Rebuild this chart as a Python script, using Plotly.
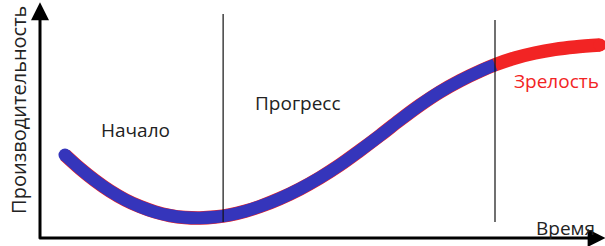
import plotly.graph_objects as go

# Data (time in arbitrary units 0..100, performance 0..100)
time = [4.46, 7.14, 9.82, 12.5, 15.18, 17.86, 20.54, 23.21, 25.89, 28.57, 31.25, 33.93, 36.61,
        39.29, 42.86, 46.43, 50.0, 53.57, 57.14, 60.71, 64.29, 67.86, 71.43, 75.0, 78.57,
        81.25, 84.82, 88.39, 91.96, 95.54, 100.0]
performance = [36.09, 30.22, 25.0, 20.43, 16.65, 13.65, 11.35, 9.78, 8.91, 8.70, 9.09, 10.04, 11.61,
               13.70, 17.17, 21.35, 26.22, 31.78, 38.04, 44.57, 51.35, 57.78, 63.52, 68.39, 72.57,
               75.30, 78.26, 80.43, 82.0, 83.04, 83.91]
phase_boundaries = [32.7, 81.25]
phase_labels = ["Начало", "Прогресс", "Зрелость"]
x_label = "Время"
y_label = "Производительность"

blue = "#3535BB"
red = "#F22424"
font = "Open Sans"

n_blue = time.index(phase_boundaries[1]) + 1

fig = go.Figure()
fig.add_trace(go.Scatter(x=time, y=performance, mode="lines",
                         line=dict(color=red, width=13.5, shape="spline", smoothing=1.0),
                         hoverinfo="skip", showlegend=False))
fig.add_trace(go.Scatter(x=time[:n_blue], y=performance[:n_blue], mode="lines",
                         line=dict(color=blue, width=12.5, shape="spline", smoothing=1.0),
                         hoverinfo="skip", showlegend=False))
fig.add_trace(go.Scatter(x=time[:1], y=performance[:1], mode="markers",
                         marker=dict(color=blue, size=13),
                         hoverinfo="skip", showlegend=False))
fig.add_trace(go.Scatter(x=time[-1:], y=performance[-1:], mode="markers",
                         marker=dict(color=red, size=13),
                         hoverinfo="skip", showlegend=False))

# phase boundaries
fig.add_shape(type="line", x0=phase_boundaries[0], x1=phase_boundaries[0], y0=7, y1=97.4,
              line=dict(color="#111", width=1.2))
fig.add_shape(type="line", x0=phase_boundaries[1], x1=phase_boundaries[1], y0=7, y1=94.8,
              line=dict(color="#111", width=1.2))

# axes with arrows
fig.add_annotation(x=101, y=0, ax=-0.4, ay=0, xref="x", yref="y", axref="x", ayref="y",
                   showarrow=True, arrowhead=2, arrowsize=1.2, arrowwidth=3, arrowcolor="#000", text="")
fig.add_annotation(x=0, y=102.5, ax=0, ay=-1, xref="x", yref="y", axref="x", ayref="y",
                   showarrow=True, arrowhead=2, arrowsize=1.2, arrowwidth=3, arrowcolor="#000", text="")

tf = dict(family=font, size=19, color="#222")
fig.add_annotation(x=17.0, y=47.0, text=phase_labels[0], showarrow=False, font=tf)
fig.add_annotation(x=46.1, y=58.7, text=phase_labels[1], showarrow=False, font=tf)
fig.add_annotation(x=92.3, y=68.3, text=phase_labels[2], showarrow=False,
                   font=dict(family=font, size=19, color=red))
fig.add_annotation(x=93.75, y=4.3, text=x_label, showarrow=False, font=tf)
fig.add_annotation(x=-3.75, y=55.7, text=y_label, showarrow=False, textangle=-90,
                   font=dict(family=font, size=20, color="#222"))

fig.update_xaxes(range=[(0 - 40) / 5.6, (605 - 40) / 5.6], visible=False, fixedrange=True)
fig.update_yaxes(range=[(238 - 246) / 2.3, 238 / 2.3], visible=False, fixedrange=True)
fig.update_layout(width=605, height=246, autosize=False,
                  margin=dict(l=0, r=0, t=0, b=0),
                  plot_bgcolor="white", paper_bgcolor="white")

fig.write_html("out.html", config={"displayModeBar": False},
               post_script="document.body.style.margin='0';document.body.style.padding='0';document.body.style.overflow='hidden';")
